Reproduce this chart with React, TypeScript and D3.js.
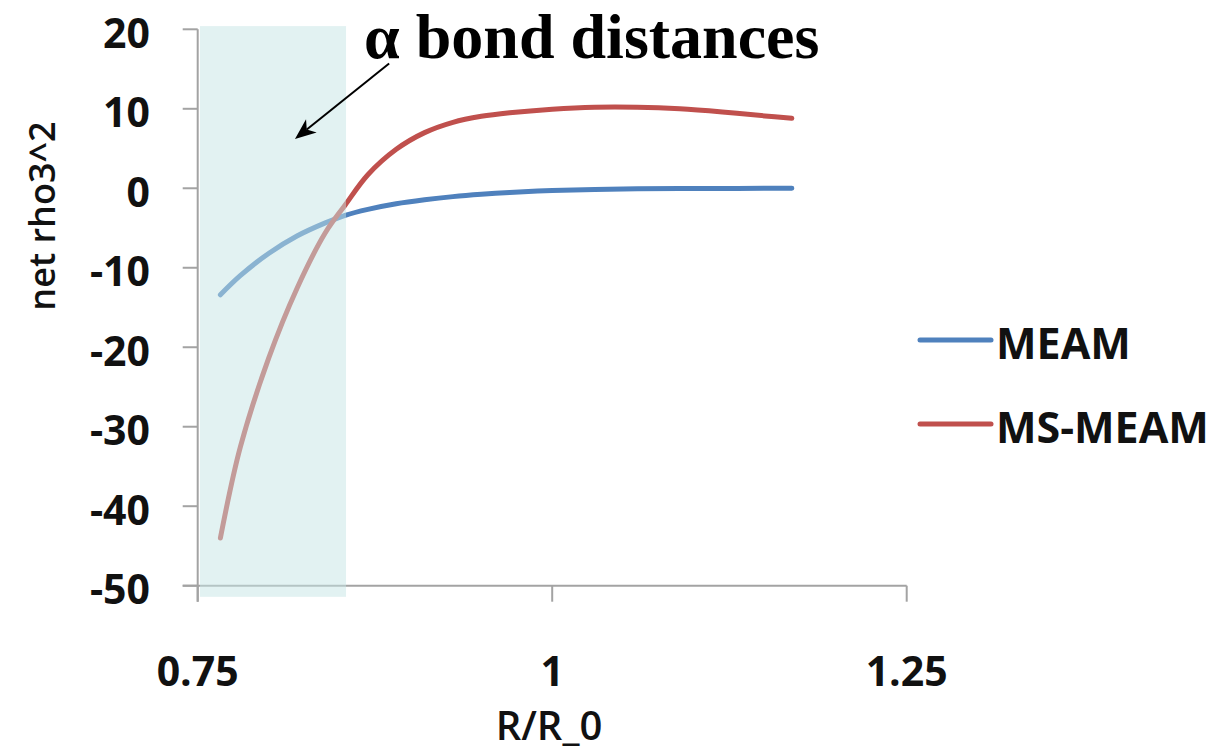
import React from "react";
import * as d3 from "d3";

const R = [0.766, 0.78, 0.8, 0.82, 0.84, 0.854, 0.87, 0.89, 0.91, 0.93, 0.95, 0.97, 1.0, 1.03, 1.06, 1.09, 1.12, 1.15, 1.169];
const MEAM = [-13.4, -11.0, -8.2, -6.0, -4.35, -3.4, -2.65, -1.95, -1.45, -1.05, -0.75, -0.52, -0.28, -0.14, -0.07, -0.035, -0.018, -0.008, 0.0];
const MS_MEAM = [-44.0, -32.6, -21.4, -12.6, -5.6, -2.1, 1.7, 4.9, 7.0, 8.3, 9.05, 9.5, 9.95, 10.2, 10.2, 10.0, 9.6, 9.1, 8.8];

const X_TICKS = [0.75, 1, 1.25];
const X_TICK_LABELS = ["0.75", "1", "1.25"];
const Y_TICKS = [20, 10, 0, -10, -20, -30, -40, -50];

const SERIES_NAMES = ["MEAM", "MS-MEAM"];
const SERIES_COLORS = ["#4f81bd", "#c0504d"];

const BAND_X = [0.7516, 0.8546];
const BAND_Y = [20.4, -51.4];
const ARROW_FROM = [0.885, 15.7];
const ARROW_TO = [0.8186, 6.2];

const W = 1218;
const H = 752;

export default function App() {
  const x = d3.scaleLinear().domain([0.75, 1.25]).range([197.7, 906.7]);
  const y = d3.scaleLinear().domain([-50, 20]).range([585.7, 29.3]);

  const series = [MEAM, MS_MEAM];
  const line = d3
    .line<number>()
    .x((_, i) => x(R[i]))
    .y((d) => y(d))
    .curve(d3.curveCatmullRom.alpha(0.5));

  const axisColor = "#a3a3a3";
  const tickFont = "'Open Sans', sans-serif";

  // arrow geometry
  const ax0 = x(ARROW_FROM[0]);
  const ay0 = y(ARROW_FROM[1]);
  const ax1 = x(ARROW_TO[0]);
  const ay1 = y(ARROW_TO[1]);
  const ang = Math.atan2(ay1 - ay0, ax1 - ax0);
  const headLen = 21;
  const headW = 8.5;
  const bx = ax1 - headLen * Math.cos(ang);
  const by = ay1 - headLen * Math.sin(ang);
  const px = -Math.sin(ang);
  const py = Math.cos(ang);
  const notch = 0.72;
  const nx = ax1 - headLen * notch * Math.cos(ang);
  const ny = ay1 - headLen * notch * Math.sin(ang);
  const headPath = `M${ax1},${ay1} L${bx + px * headW},${by + py * headW} L${nx},${ny} L${bx - px * headW},${by - py * headW} Z`;

  return (
    <svg
      width={W}
      height={H}
      style={{ position: "absolute", left: 0, top: 0, background: "#fff" }}
    >
      <rect x={0} y={0} width={W} height={H} fill="#fff" />
      {/* y axis */}
      <line x1={x(0.75)} x2={x(0.75)} y1={y(20)} y2={y(-50) + 16} stroke={axisColor} strokeWidth={2} />
      {Y_TICKS.map((t) => (
        <g key={t}>
          <line x1={x(0.75) - 15} x2={x(0.75)} y1={y(t)} y2={y(t)} stroke={axisColor} strokeWidth={2} />
          <text
            x={150}
            y={y(t) + 18.5}
            textAnchor="end"
            fontFamily={tickFont}
            fontWeight={700}
            fontSize={41}
            fill="#111"
          >
            {t}
          </text>
        </g>
      ))}
      {/* x axis */}
      <line x1={x(0.75) - 15} x2={x(1.25)} y1={y(-50)} y2={y(-50)} stroke={axisColor} strokeWidth={2} />
      {X_TICKS.map((t, i) => (
        <g key={t}>
          <line x1={x(t)} x2={x(t)} y1={y(-50)} y2={y(-50) + 16} stroke={axisColor} strokeWidth={2} />
          <text
            x={x(t)}
            y={686}
            textAnchor="middle"
            fontFamily={tickFont}
            fontWeight={700}
            fontSize={41}
            fill="#111"
          >
            {X_TICK_LABELS[i]}
          </text>
        </g>
      ))}
      {/* axis titles */}
      <text x={549} y={740} textAnchor="middle" fontFamily={tickFont} fontWeight={600} fontSize={40} fill="#111">
        R/R_0
      </text>
      <text
        transform={`translate(55,216) rotate(-90)`}
        textAnchor="middle"
        fontFamily={tickFont}
        fontWeight={600}
        fontSize={36}
        fill="#111"
      >
        net rho3^2
      </text>
      {/* series */}
      {series.map((s, i) => (
        <path
          key={SERIES_NAMES[i]}
          d={line(s) || ""}
          fill="none"
          stroke={SERIES_COLORS[i]}
          strokeWidth={5}
          strokeLinecap="round"
          strokeLinejoin="round"
        />
      ))}
      {/* shaded band */}
      <rect
        x={x(BAND_X[0])}
        y={y(BAND_Y[0])}
        width={x(BAND_X[1]) - x(BAND_X[0])}
        height={y(BAND_Y[1]) - y(BAND_Y[0])}
        fill="rgb(197,229,229)"
        fillOpacity={0.5}
      />
      {/* annotation */}
      <line x1={ax0} y1={ay0} x2={nx} y2={ny} stroke="#000" strokeWidth={2} />
      <path d={headPath} fill="#000" />
      <text
        x={364}
        y={58}
        fontFamily="'Liberation Serif', 'Times New Roman', serif"
        fontWeight={700}
        fontSize={64}
        fill="#000"
      >
        α bond distances
      </text>
      {/* legend */}
      {SERIES_NAMES.map((n, i) => (
        <g key={n}>
          <line
            x1={920}
            x2={991}
            y1={340 + i * 84}
            y2={340 + i * 84}
            stroke={SERIES_COLORS[i]}
            strokeWidth={5}
            strokeLinecap="round"
          />
          <text x={996} y={359 + i * 84} fontFamily={tickFont} fontWeight={700} fontSize={43} fill="#111">
            {n}
          </text>
        </g>
      ))}
    </svg>
  );
}
